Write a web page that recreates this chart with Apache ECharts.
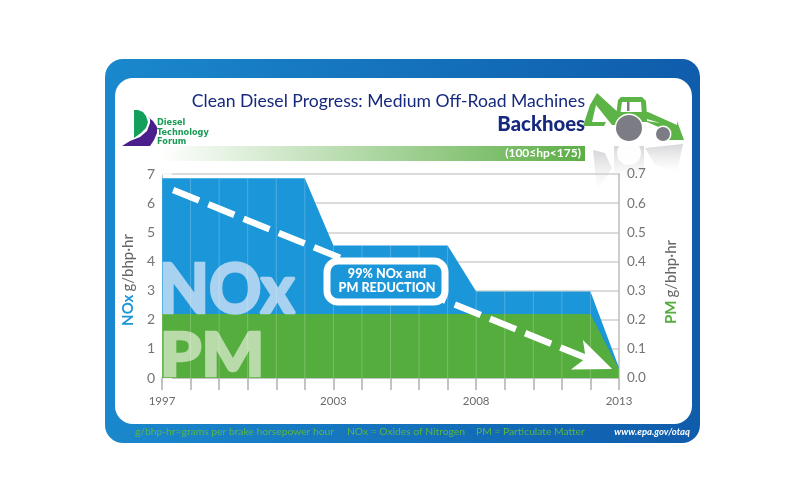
<!DOCTYPE html>
<html>
<head>
<meta charset="utf-8">
<style>html,body{margin:0;padding:0;background:#fff}#c{width:800px;height:501px}</style>
<script src="https://cdn.jsdelivr.net/npm/echarts@6/dist/echarts.min.js"></script>
</head>
<body>
<div id="c"></div>
<script>
const years = [1997,1998,1999,2000,2001,2002,2003,2004,2005,2006,2007,2008,2009,2010,2011,2012,2013];
const noxValues = [6.85,6.85,6.85,6.85,6.85,6.85,4.55,4.55,4.55,4.55,4.55,2.97,2.97,2.97,2.97,2.97,0.35];
const pmValues = [0.22,0.22,0.22,0.22,0.22,0.22,0.22,0.22,0.22,0.22,0.22,0.22,0.22,0.22,0.22,0.22,0.03];
const yearLabels = [1997,2003,2008,2013];
const trendStart = [1997.39,6.45];
const trendEnd = [2012.2,0.55];
const trendTip = [2012.76,0.31];

const FONT = 'Lato, "Open Sans", sans-serif';
const NOX = '#1b96d9', PM = '#55ad3d', GREEN = '#5cb346', NAVY = '#16297f', GRAY = '#7c7c84';

const zip = (a,b) => a.map((v,i) => [v,b[i]]);
const txt = (x,y,text,o) => ({type:'text',x,y,z:o.z||20,silent:true,scaleX:o.scaleX||1,style:Object.assign({text,font:o.font,fill:o.fill,textAlign:o.align||'left',textVerticalAlign:'middle'},o.extra||{})});
const poly = (points,fill,o) => ({type:'polygon',z:(o&&o.z)||20,silent:true,shape:{points},style:{fill}});
const circle = (cx,cy,r,fill,o) => ({type:'circle',z:(o&&o.z)||20,silent:true,shape:{cx,cy,r},style:Object.assign({fill},o&&o.style||{})});

const panel = [
  {type:'rect',z:-10,silent:true,shape:{x:105,y:59,width:595,height:384,r:18},
   style:{fill:{type:'linear',x:0,y:0,x2:1,y2:0,colorStops:[{offset:0,color:'#1a88cc'},{offset:1,color:'#0f5cab'}]}}},
  {type:'rect',z:-9,silent:true,shape:{x:115,y:78,width:577,height:346,r:18},style:{fill:'#fff'}},
  {type:'rect',z:-8,silent:true,shape:{x:160,y:146,width:425,height:15},
   style:{fill:{type:'linear',x:0,y:0,x2:1,y2:0,colorStops:[{offset:0,color:'rgba(92,174,70,0)'},{offset:1,color:'#5cae46'}]}}}
];

const heading = [
  txt(585,101,'Clean Diesel Progress: Medium Off-Road Machines',{font:'17.6px '+FONT,fill:NAVY,align:'right'}),
  txt(585,124,'Backhoes',{font:'900 20.3px '+FONT,fill:NAVY,align:'right'}),
  txt(581,153,'(100≤hp<175)',{font:'bold 12px '+FONT,fill:'#fff',align:'right'}),
  txt(135,432,'g/bhp-hr=grams per brake horsepower hour',{font:'10.3px '+FONT,fill:'#5ab548'}),
  txt(347,432,'NOx = Oxides of Nitrogen',{font:'10.3px '+FONT,fill:'#5ab548'}),
  txt(476,432,'PM = Particulate Matter',{font:'10.3px '+FONT,fill:'#5ab548'}),
  txt(690,432,'www.epa.gov/otaq',{font:'italic bold 9.5px '+FONT,fill:'#fff',align:'right'})
];

const logoFont = 'bold 8.2px "DejaVu Sans", sans-serif';
const logo = [
  poly([[134,110],[138,110],[143,112],[146,116],[148,122],[146,128],[141,133],[134,138]],'#14a05a'),
  poly([[122,146],[130,141],[140,137],[147,131],[150,123],[150,119],[148,117],[153,121],[157,127],[157,133],[154,140],[150,146]],'#4a1f8c'),
  txt(157,123,'Diesel',{font:logoFont,fill:'#1a9a55'}),
  txt(157,132.5,'Technology',{font:logoFont,fill:'#1a9a55'}),
  txt(157,142,'Forum',{font:logoFont,fill:'#1a9a55'})
];

const fade = {type:'linear',x:0,y:0,x2:0,y2:1,colorStops:[{offset:0,color:'rgba(175,175,180,.5)'},{offset:1,color:'rgba(210,210,215,0)'}]};
const machine = [
  {type:'polygon',z:-5,silent:true,shape:{points:[[593,150],[597,190],[612,168],[605,153]]},style:{fill:fade}},
  {type:'polygon',z:-5,silent:true,shape:{points:[[645,148],[683,144],[677,172],[655,165]]},style:{fill:fade}},
  {type:'rect',z:-5,silent:true,shape:{x:614,y:146,width:30,height:34},style:{fill:fade}},
  circle(629,153,12,'rgba(255,255,255,.95)',{z:-4}),
  poly([[597,93],[621,115],[621,125],[612,125],[596,105],[592,122],[606,122],[604,126],[583,126],[590,105]],GREEN),
  poly([[616,116],[618,100],[621,97],[642,97],[646,101],[647,116],[642,116],[641,102],[622,102],[620,116]],GREEN),
  poly([[616,112],[648,112],[677,125],[677,121],[684,140],[666,140],[670,132],[647,122],[616,122]],GREEN),
  poly([[647,119],[660,123],[647,121]],'#fff'),
  {type:'rect',z:20,silent:true,shape:{x:627,y:102,width:2.5,height:9},style:{fill:GRAY}},
  circle(629,128,14.5,'#fff'),
  circle(629,128,13,GRAY),
  circle(663,134,8.5,'#fff'),
  circle(663,134,7,GRAY)
];

const bigStyle = c => ({stroke:c,lineWidth:2.5});
const bigWords = [
  txt(159,291,'NOx',{z:3,font:'900 68px '+FONT,fill:'#a8d2ef',scaleX:0.95,extra:bigStyle('#a8d2ef')}),
  txt(160,357,'PM',{z:3,font:'900 60px '+FONT,fill:'#b9dbaa',scaleX:1.1,extra:bigStyle('#b9dbaa')})
];

const callout = [
  {type:'rect',z:12,silent:true,shape:{x:327,y:261,width:118,height:41,r:11},style:{fill:NOX,stroke:'#fff',lineWidth:7}},
  txt(387,274,'99% NOx and',{z:13,font:'900 12.6px '+FONT,fill:'#fff',align:'center'}),
  txt(387,288,'PM REDUCTION',{z:13,font:'900 12.6px '+FONT,fill:'#fff',align:'center'})
];

const chart = echarts.init(document.getElementById('c'),null,{renderer:'canvas'});
chart.setOption({
  animation:false,
  textStyle:{fontFamily:FONT},
  grid:{left:162,right:181,top:174,bottom:123},
  graphic:{elements:[].concat(panel,heading,logo,machine,bigWords,callout)},
  xAxis:{
    type:'value',min:1997,max:2013,interval:1,
    axisLine:{show:true,onZero:false,lineStyle:{color:'#bdbdbd',width:1.5}},
    axisTick:{show:true,length:12,customValues:years,lineStyle:{color:'#b0b0b0',width:1.5}},
    axisLabel:{margin:17,fontSize:11.5,color:'#6b6b6b',customValues:yearLabels,formatter:v => String(v)},
    splitLine:{show:false}
  },
  yAxis:[{
    type:'value',min:0,max:7,interval:1,position:'left',
    name:'{a|NOx} {b|g/bhp·hr}',nameLocation:'middle',nameGap:23,nameRotate:90,
    nameTextStyle:{padding:[0,8,0,0],rich:{a:{fontSize:15,fontWeight:'bold',color:NOX},b:{fontSize:15,color:'#666'}}},
    axisLine:{show:true,lineStyle:{color:'#c4c4c4',width:1}},
    axisTick:{show:true,inside:true,length:10,lineStyle:{color:'#fff',width:1.5}},
    axisLabel:{margin:7,fontSize:14,color:'#757575'},
    splitLine:{show:true,lineStyle:{color:'#cfcfcf',width:1.5}}
  },{
    type:'value',min:0,max:0.7,interval:0.1,position:'right',
    name:'{a|PM} {b|g/bhp·hr}',nameLocation:'middle',nameGap:45,nameRotate:90,
    nameTextStyle:{padding:[0,12,0,0],rich:{a:{fontSize:15,fontWeight:'bold',color:PM},b:{fontSize:15,color:'#666'}}},
    axisLine:{show:true,lineStyle:{color:'#bdbdbd',width:1.5}},
    axisTick:{show:false},
    axisLabel:{margin:8,fontSize:13.5,color:'#757575',formatter:v => v.toFixed(1)},
    splitLine:{show:false}
  }],
  series:[
    {name:'NOx',type:'line',yAxisIndex:0,z:1,data:zip(years,noxValues),symbol:'none',
     lineStyle:{width:0},areaStyle:{color:NOX,opacity:1}},
    {name:'PM',type:'line',yAxisIndex:1,z:2,data:zip(years,pmValues),symbol:'none',
     lineStyle:{width:0},areaStyle:{color:PM,opacity:1}},
    {name:'Years',type:'bar',yAxisIndex:0,z:4,barWidth:1,data:zip(years,noxValues),
     itemStyle:{color:'rgba(255,255,255,.22)'},silent:true},
    {name:'Reduction',type:'line',yAxisIndex:0,z:6,silent:true,
     data:[trendStart,trendEnd],symbol:'none',
     lineStyle:{color:'#fff',width:6.5,type:[28,10]}},
    {name:'Arrowhead',type:'scatter',yAxisIndex:0,z:7,silent:true,
     data:[trendTip],symbol:'arrow',symbolSize:[24,38],symbolRotate:-112,itemStyle:{color:'#fff',opacity:1}}
  ]
});
</script>
</body>
</html>
